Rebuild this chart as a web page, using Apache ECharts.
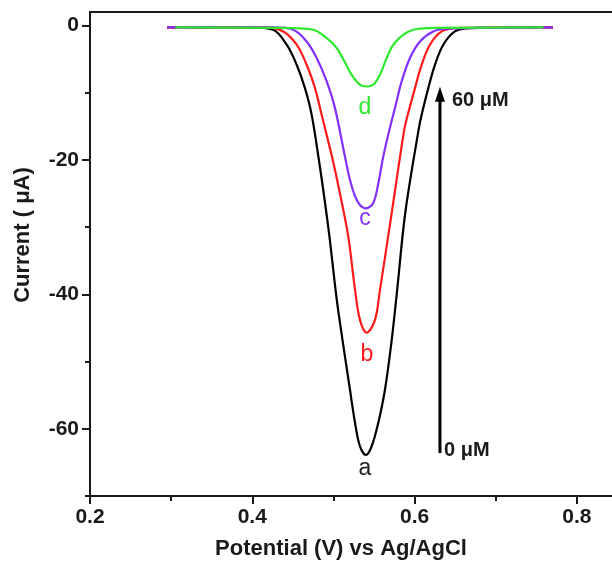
<!DOCTYPE html>
<html><head><meta charset="utf-8">
<script src="https://cdn.jsdelivr.net/npm/echarts@6/dist/echarts.min.js"></script>
<style>html,body{margin:0;padding:0;background:#fff}#c{width:612px;height:565px}</style>
</head><body><div id="c"></div>
<script>
// Potential (V) and current (uA)
const aV = [0.295,0.397,0.4255,0.4424,0.4547,0.4649,0.4732,0.4827,0.4885,0.4951,0.5041,0.5112,0.5204,0.5266,0.5327,0.5401,0.5471,0.5553,0.5635,0.5718,0.5786,0.5885,0.6050,0.6087,0.6169,0.6251,0.6354,0.6498,0.6683,0.7705];
const aI = [-0.3,-0.3,-0.64,-2.87,-5.85,-9.32,-13.3,-20.5,-25.4,-31.4,-40.8,-46.8,-54.2,-59.1,-62.6,-63.9,-62.6,-59.1,-54.2,-46.8,-39.3,-27.9,-15.5,-13.3,-9.32,-5.85,-2.87,-0.89,-0.39,-0.3];
const bV = [0.295,0.4156,0.4382,0.4547,0.4670,0.4773,0.4855,0.4917,0.5001,0.5087,0.5183,0.5266,0.5327,0.5410,0.5512,0.5574,0.5718,0.5873,0.5916,0.6005,0.6087,0.6190,0.6334,0.6519,0.7705];
const bI = [-0.3,-0.3,-0.89,-2.87,-5.85,-9.32,-13.3,-16.3,-20.5,-25.4,-31.4,-39.3,-43.8,-45.7,-43.8,-39.3,-27.9,-15.5,-13.3,-9.32,-5.85,-2.87,-0.89,-0.39,-0.3];
const cV = [0.295,0.428,0.4505,0.4670,0.4794,0.4917,0.5019,0.5142,0.5204,0.5266,0.5327,0.5401,0.5491,0.5553,0.5614,0.5684,0.5758,0.5841,0.5943,0.6067,0.6230,0.6396,0.7705];
const cI = [-0.3,-0.3,-0.64,-2.38,-4.85,-8.33,-12.3,-19.5,-23.0,-25.4,-26.7,-27.2,-26.4,-23.5,-19.5,-15.8,-12.3,-8.33,-4.85,-2.38,-0.89,-0.49,-0.3];
const dV = [0.305,0.4465,0.4752,0.4917,0.5040,0.5136,0.5225,0.5327,0.5410,0.5491,0.5574,0.5656,0.5738,0.5861,0.5984,0.6149,0.759];
const dI = [-0.3,-0.39,-0.64,-1.88,-3.36,-5.36,-7.34,-8.82,-9.08,-8.82,-7.34,-4.85,-2.87,-1.38,-0.64,-0.39,-0.3];

const curveNames = ['a','b','c','d'];
const curveColors = ['#000000','#ff1a1a','#8330ff','#2ee82e'];
const xTitle = 'Potential (V) vs Ag/AgCl';
const yTitle = 'Current ( \u03bcA)';
const arrowV = 0.6313;          // arrow position (V)
const arrowFrom = -63.6, arrowTo = -10.3; // arrow extent (uA)
const arrowTopText = '60 \u03bcM', arrowBottomText = '0 \u03bcM';

const FONT = '"Liberation Sans", Arial, sans-serif';
const AX = '#1a1a1a';
const zip = (x, y) => x.map((v, i) => [v, y[i]]);
const series = [[aV,aI],[bV,bI],[cV,cI],[dV,dI]].map((p, k) => ({
  type: 'line', name: curveNames[k], xAxisIndex: 0, yAxisIndex: 0,
  data: zip(p[0], p[1]), showSymbol: false, smooth: 0.35, animation: false,
  lineStyle: { color: curveColors[k], width: 2.2 }, itemStyle: { color: curveColors[k] }, z: 2 + k
}));

const chart = echarts.init(document.getElementById('c'), null, { renderer: 'canvas' });
const tickStyle = { color: AX, width: 2 };
const gridBase = { outerBoundsMode: 'none', containLabel: false };
chart.setOption({
  animation: false,
  textStyle: { fontFamily: FONT },
  grid: [
    Object.assign({ left: 90, top: 12, width: 568, bottom: 69, show: true, borderColor: AX, borderWidth: 2, backgroundColor: 'transparent' }, gridBase),
    Object.assign({ left: 90, top: 25.44, width: 568, bottom: 69 }, gridBase),
    Object.assign({ left: 90, top: 25.44, width: 568, bottom: 136.2 }, gridBase)
  ],
  xAxis: [
    { gridIndex: 0, type: 'value', min: 0.2, max: 0.9, interval: 0.2,
      axisLine: { onZero: false, lineStyle: tickStyle },
      axisTick: { length: 8, lineStyle: tickStyle },
      minorTick: { show: true, splitNumber: 2, length: 5, lineStyle: tickStyle },
      splitLine: { show: false }, minorSplitLine: { show: false },
      axisLabel: { fontSize: 21, fontWeight: 'bold', color: AX, margin: 11, fontFamily: FONT,
        formatter: v => (Math.abs(v * 5 - Math.round(v * 5)) < 1e-6 && v < 0.85) ? v.toFixed(1) : '' } },
    { gridIndex: 1, type: 'value', min: 0, max: 1, show: false },
    { gridIndex: 2, type: 'value', min: 0, max: 1, show: false }
  ],
  yAxis: [
    { gridIndex: 0, type: 'value', min: -70, max: 2, show: false, splitLine: { show: false } },
    { gridIndex: 1, type: 'value', min: -70, max: 0, interval: 10,
      axisLine: { show: false, onZero: false }, axisTick: { show: true, length: 5, lineStyle: tickStyle },
      axisLabel: { show: false }, splitLine: { show: false } },
    { gridIndex: 2, type: 'value', min: -60, max: 0, interval: 20,
      axisLine: { show: false, onZero: false }, axisTick: { show: true, length: 8, lineStyle: tickStyle },
      axisLabel: { fontSize: 21, fontWeight: 'bold', color: AX, margin: 11, fontFamily: FONT }, splitLine: { show: false } }
  ],
  series: series
});

const p0 = chart.convertToPixel({ xAxisIndex: 0, yAxisIndex: 0 }, [arrowV, arrowFrom]);
const p1 = chart.convertToPixel({ xAxisIndex: 0, yAxisIndex: 0 }, [arrowV, arrowTo]);
const txt = (text, x, y, size, color, weight, align, rot) => ({
  type: 'text', x: x, y: y, rotation: rot || 0, z: 20,
  style: { text: text, fill: color, fontSize: size, fontWeight: weight, fontFamily: FONT,
    align: align, textAlign: align, verticalAlign: 'middle', textVerticalAlign: 'middle' }
});
chart.setOption({
  graphic: [
    txt(yTitle, 23, 235, 22, AX, 'bold', 'center', Math.PI / 2),
    txt(xTitle, 341, 549, 22, AX, 'bold', 'center'),
    txt('a', 365, 469, 23, '#222', 'normal', 'center'),
    txt('b', 367, 355, 23, curveColors[1], 'normal', 'center'),
    txt('c', 365, 219, 23, curveColors[2], 'normal', 'center'),
    txt('d', 365, 108, 23, curveColors[3], 'normal', 'center'),
    txt(arrowTopText, 452, 100, 20, AX, 'bold', 'left'),
    txt(arrowBottomText, 444, 450, 20, AX, 'bold', 'left'),
    { type: 'line', z: 20, shape: { x1: p0[0], y1: p0[1], x2: p1[0], y2: p1[1] + 6 }, style: { stroke: '#000', lineWidth: 3 } },
    { type: 'polygon', z: 20, shape: { points: [[p1[0], p1[1] - 8], [p1[0] - 5, p1[1] + 7], [p1[0] + 5, p1[1] + 7]] }, style: { fill: '#000' } }
  ]
});
</script></body></html>
